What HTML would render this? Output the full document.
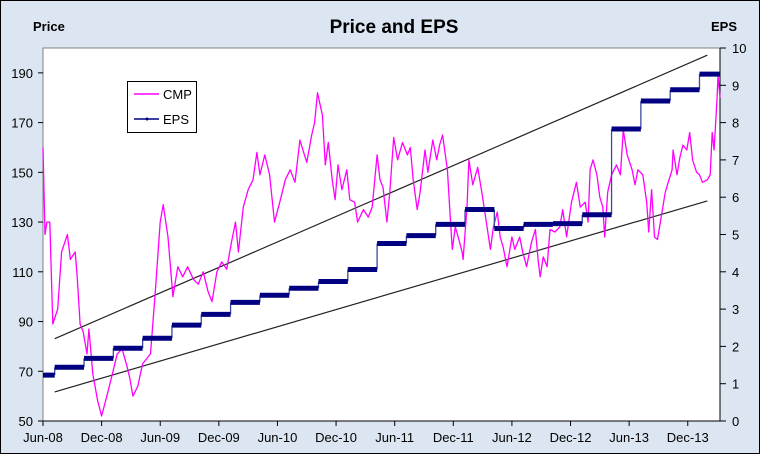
<!DOCTYPE html>
<html><head><meta charset="utf-8"><style>
body{margin:0;background:#fff}
svg text{font-family:"Liberation Sans",Arial,sans-serif;fill:#000}
</style></head><body>
<svg id="chart" width="760" height="454" viewBox="0 0 760 454" xmlns="http://www.w3.org/2000/svg">
<rect x="0.5" y="0.5" width="759" height="453" fill="#dce6f2" stroke="#000"/>
<rect x="43" y="48" width="677" height="373" fill="#fff" stroke="#808080"/>
<text x="394" y="33" font-size="19" font-weight="bold" text-anchor="middle">Price and EPS</text>
<text x="33" y="31" font-size="13" font-weight="bold">Price</text>
<text x="711" y="31" font-size="13" font-weight="bold">EPS</text>
<g id="axes"></g>
<g id="marks"></g>
<g>
<rect x="127.5" y="81.5" width="69" height="51" fill="#fff" stroke="#000"/>
<line x1="134" y1="94" x2="159" y2="94" stroke="#ff00ff" stroke-width="1.5"/>
<text x="163" y="99" font-size="13">CMP</text>
<line x1="134" y1="119" x2="159" y2="119" stroke="#000080" stroke-width="1.5"/>
<circle cx="147" cy="119" r="1.5" fill="#000080"/>
<text x="163" y="124" font-size="13">EPS</text>
</g>
</svg>
<script>
const xTickLabels=["Jun-08","Dec-08","Jun-09","Dec-09","Jun-10","Dec-10","Jun-11","Dec-11","Jun-12","Dec-12","Jun-13","Dec-13"];
const leftTicks=[50,70,90,110,130,150,170,190];
const rightTicks=[0,1,2,3,4,5,6,7,8,9,10];
const priceMonths=[0,0.2,0.4,0.7,1.0,1.5,1.9,2.5,2.8,3.3,3.5,3.8,4.1,4.5,4.7,5.1,5.6,6.0,6.6,7.1,7.6,8.1,8.6,8.9,9.2,9.7,10.2,11.0,11.5,12.0,12.3,12.8,13.3,13.8,14.3,14.8,15.4,15.9,16.4,16.9,17.3,17.8,18.3,18.8,19.3,19.7,20.0,20.5,21.0,21.5,21.9,22.2,22.7,23.2,23.7,24.3,24.8,25.3,25.8,26.3,26.6,27.0,27.5,27.8,28.1,28.6,28.9,29.2,29.6,29.9,30.2,30.6,31.1,31.4,31.9,32.2,32.8,33.3,33.7,34.2,34.5,34.8,35.2,35.5,35.9,36.3,36.8,37.3,37.6,37.9,38.3,38.6,39.1,39.4,39.9,40.3,40.6,40.9,41.4,41.7,41.9,42.2,42.5,42.9,43.0,43.4,43.6,44.0,44.5,45.0,45.8,46.1,46.5,46.8,47.1,47.5,48.0,48.3,48.8,49.1,49.5,50.0,50.4,50.7,50.9,51.2,51.6,51.9,52.4,52.9,53.2,53.6,54.1,54.6,55.0,55.5,55.8,56.0,56.3,56.7,57.0,57.3,57.5,57.8,58.2,58.7,59.1,59.4,59.8,60.3,60.6,60.9,61.4,61.8,62.0,62.3,62.6,62.9,63.4,63.7,64.0,64.4,64.5,64.9,65.2,65.5,65.9,66.2,66.5,66.9,67.2,67.5,68.0,68.3,68.5,68.7,69.0,69.1,69.3];
const priceValues=[160,125,130,130,89,95,118,125,115,118,108,89,86,77,87,69,58,52,61,69,77,79,72,67,60,64,73,77,102,130,137,124,100,112,108,112,107,105,110,102,98,110,114,111,122,130,118,136,143,147,158,149,157,149,130,139,147,151,146,163,159,154,165,170,182,173,153,162,147,139,153,143,151,139,138,130,135,132,136,157,147,144,130,142,164,155,162,157,160,147,135,142,159,150,163,155,161,165,151,131,119,128,124,118,115,136,155,145,152,140,119,128,134,124,120,112,124,119,124,118,112,122,127,114,108,116,112,127,126,128,135,124,138,146,136,138,130,151,155,149,140,136,124,142,149,153,149,167,157,151,145,151,149,138,126,143,124,123,135,142,146,151,159,149,156,161,159,166,155,150,149,146,147,149,166,159,180,189,180];
const epsValues=[1.23,1.44,1.68,1.95,2.22,2.57,2.86,3.18,3.37,3.56,3.74,4.06,4.76,4.97,5.27,5.67,5.16,5.27,5.29,5.53,7.83,8.58,8.88,9.30];
const epsStarts=[0,1.2,4.2,7.2,10.2,13.2,16.2,19.2,22.2,25.2,28.2,31.2,34.2,37.2,40.2,43.2,46.2,49.2,52.2,55.2,58.2,61.2,64.2,67.2];
const upperTrend=[[1.2,83.1],[68.0,197.1]];
const lowerTrend=[[1.2,61.7],[68.0,138.5]];

const X0=43,X1=720,Y0=421,Y1=48,MMAX=69.3;
const xs=m=>X0+(m/MMAX)*(X1-X0);
const yL=p=>Y0-(p-50)/150*(Y0-Y1);
const yR=v=>Y0-v/10*(Y0-Y1);
const NS="http://www.w3.org/2000/svg";
function mk(parent,tag,attrs){const e=document.createElementNS(NS,tag);for(const k in attrs)e.setAttribute(k,attrs[k]);parent.appendChild(e);return e;}
const axes=document.getElementById('axes'),marks=document.getElementById('marks');

leftTicks.forEach(t=>{const y=yL(t);
 const l=mk(axes,'line',{x1:38,x2:43,y1:y,y2:y,stroke:'#000'});
 
 
 const tx=mk(axes,'text',{x:33,y:y+5,'font-size':13,'text-anchor':'end'});tx.textContent=t;
 
 });
const ra=mk(axes,'line',{x1:720,x2:720,y1:Y1,y2:Y0,stroke:'#000'});


rightTicks.forEach(t=>{const y=yR(t);
 const l=mk(axes,'line',{x1:720,x2:726,y1:y,y2:y,stroke:'#000'});
 
 
 const tx=mk(axes,'text',{x:732,y:y+5,'font-size':13});tx.textContent=t;
 
 });
const ba=mk(axes,'line',{x1:X0,x2:720,y1:Y0,y2:Y0,stroke:'#000'});


xTickLabels.forEach((lab,i)=>{const x=xs(i*6);
 const l=mk(axes,'line',{x1:x,x2:x,y1:Y0,y2:Y0+5,stroke:'#000'});
 
 
 const tx=mk(axes,'text',{x:x,y:442,'font-size':13,'text-anchor':'middle'});tx.textContent=lab;
 
 });

[upperTrend,lowerTrend].forEach((tr,i)=>{
 const l=mk(marks,'line',{x1:xs(tr[0][0]),y1:yL(tr[0][1]),x2:xs(tr[1][0]),y2:yL(tr[1][1]),stroke:'#222','stroke-width':1.2});
 
 });

const pp=priceMonths.map((m,i)=>xs(m).toFixed(1)+','+yL(priceValues[i]).toFixed(1)).join(' ');
const cmp=mk(marks,'polyline',{points:pp,fill:'none',stroke:'#ff00ff','stroke-width':1.3,'stroke-linejoin':'round'});



let d='';
epsValues.forEach((v,i)=>{const xa=xs(epsStarts[i]);
 if(i>0)d+=`M${xa},${yR(epsValues[i-1])}L${xa},${yR(v)}`;});
const conn=mk(marks,'path',{d:d,stroke:'#3a4aa0','stroke-width':1.3,fill:'none'});


epsValues.forEach((v,i)=>{const xa=xs(epsStarts[i]);const xb=i+1<epsStarts.length?xs(epsStarts[i+1]):xs(MMAX);
 const s=mk(marks,'line',{x1:xa,x2:xb,y1:yR(v),y2:yR(v),stroke:'#000080','stroke-width':5});
 
 });
</script>
</body></html>
